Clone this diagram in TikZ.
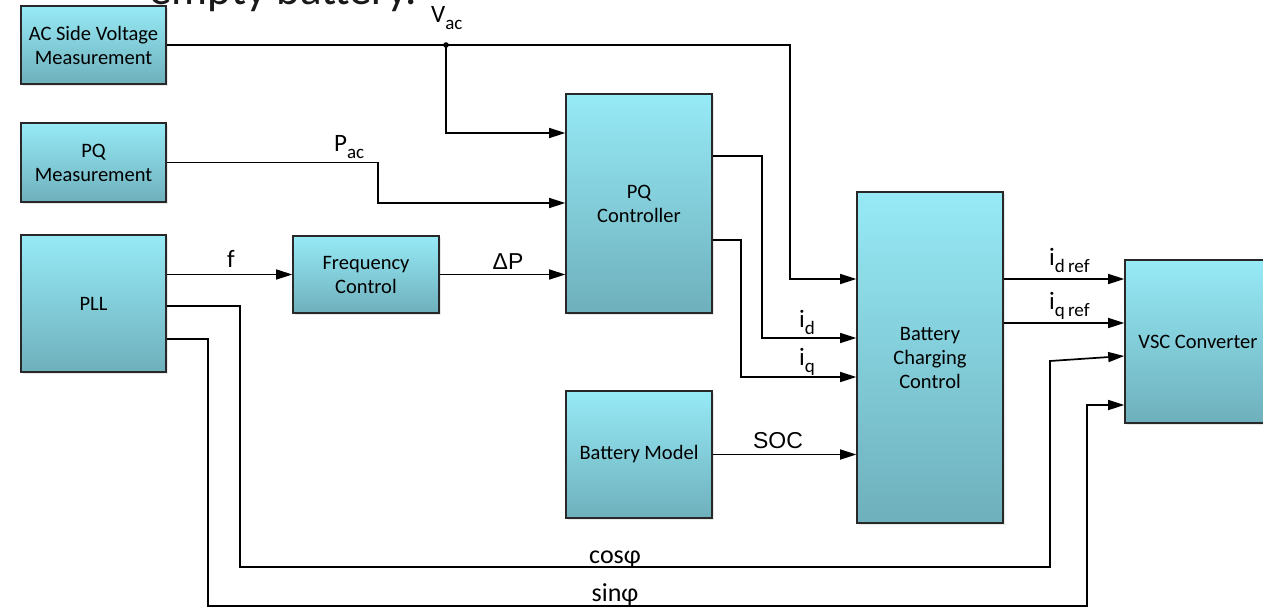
\documentclass[tikz,border=0pt]{standalone}
\usepackage{fontspec}
\setmainfont{Carlito}
\newfontfamily\arialf{Liberation Sans}
\usetikzlibrary{arrows.meta,calc,shadows}
\definecolor{boxtop}{RGB}{150,234,246}
\definecolor{boxbot}{RGB}{110,176,188}
\definecolor{edge}{RGB}{40,40,40}
\newcommand\mysub[1]{\raisebox{-7pt}{\fontsize{19}{19}\selectfont #1}}
\begin{document}
\begin{tikzpicture}[x=1pt,y=-1pt,
  blk/.style={draw=edge, line width=1.6pt, top color=boxtop, bottom color=boxbot,
    align=center, inner sep=0pt, font=\fontsize{20.5}{24}\selectfont,
    drop shadow={opacity=0.18, shadow xshift=2pt, shadow yshift=-2pt}},
  ln/.style={draw=black, line width=1.7pt},
  arr/.style={ln, -{Triangle[length=16pt,width=10pt]}},
  lbl/.style={inner sep=0pt, font=\fontsize{25}{28}\selectfont},
  trig/.style={inner sep=0pt, font=\fontsize{26}{28}\selectfont},
  big/.style={inner sep=0pt, font=\arialf\fontsize{23}{26}\selectfont}]
\useasboundingbox (0,0) rectangle (1263,610);
\clip (0,0) rectangle (1263,610);
\fill[white] (0,0) rectangle (1263,610);

% cut-off heading text
\node[anchor=base west, inner sep=0pt, font=\fontsize{45}{48}\selectfont, text=black!90] (head) at (149,5) {empty battery.};

% blocks
\node[blk, minimum width=145pt, minimum height=78pt] (acv) at (93.5,45) {AC Side Voltage\\Measurement};
\node[blk, minimum width=145pt, minimum height=79pt] (pqm) at (93.5,162.5) {PQ\\Measurement};
\node[blk, minimum width=145pt, minimum height=137pt] (pll) at (93.5,303.5) {PLL};
\node[blk, minimum width=146pt, minimum height=77pt] (fc) at (366,274.5) {Frequency\\Control};
\node[blk, minimum width=146pt, minimum height=219pt] (pqc) at (639,203.5) {PQ\\Controller};
\node[blk, minimum width=146pt, minimum height=127pt] (bm) at (639,454.5) {Battery Model};
\node[blk, minimum width=146pt, minimum height=331pt] (bcc) at (930,357.5) {Battery\\Charging\\Control};
\node[blk, minimum width=146pt, minimum height=163pt] (vsc) at (1198,341.5) {VSC Converter};

% junction
\coordinate (j) at (446,45);
\fill (j) circle (2.8pt);

% connectors
\draw[arr] (acv.east) -- (j) -- (790,45) |- (bcc.west |- 0,279);
\draw[arr] (j) |- (pqc.west |- 0,133);
\draw[arr] (pqm.east) -| (378,203) -- (pqc.west |- 0,203);
\draw[arr] (pll.east |- fc.west) -- (fc.west);
\draw[arr] (fc.east) -- (pqc.west |- fc.east);
\draw[arr] (pqc.east |- 0,156) -| (762,338) -- (bcc.west |- 0,338);
\draw[arr] (pqc.east |- 0,240) -| (741,377) -- (bcc.west |- 0,377);
\draw[arr] (bm.east) -- (bcc.west |- bm.east);
\draw[arr] (bcc.east |- 0,279) -- (vsc.west |- 0,279);
\draw[arr] (bcc.east |- 0,323) -- (vsc.west |- 0,323);
\draw[arr] (pll.east |- 0,306) -| (240,567) -| (1050,361) -- (vsc.west |- 0,356);
\draw[arr] (pll.east |- 0,339) -| (208,606) -| (1087,405) -- (vsc.west |- 0,405);

% labels
\node[lbl, anchor=base west] (lvac) at (431,23) {V\mysub{ac}};
\node[lbl, anchor=base west] (lpac) at (334,151) {P\mysub{ac}};
\node[lbl, anchor=base] (lf) at (231,267) {f};
\node[big] (ldp) at (508,262) {ΔP};
\node[lbl, anchor=base west] (lid) at (799,327) {i\mysub{d}};
\node[lbl, anchor=base west] (liq) at (799,365) {i\mysub{q}};
\node[lbl, anchor=base west] (lidr) at (1049,265) {i\mysub{d\,ref}};
\node[lbl, anchor=base west] (liqr) at (1049,309) {i\mysub{q\,ref}};
\node[big] (lsoc) at (778,441) {SOC};
\node[trig, anchor=base] (lcos) at (615,563) {cosφ};
\node[trig, anchor=base] (lsin) at (615,601) {sinφ};
\end{tikzpicture}
\end{document}
